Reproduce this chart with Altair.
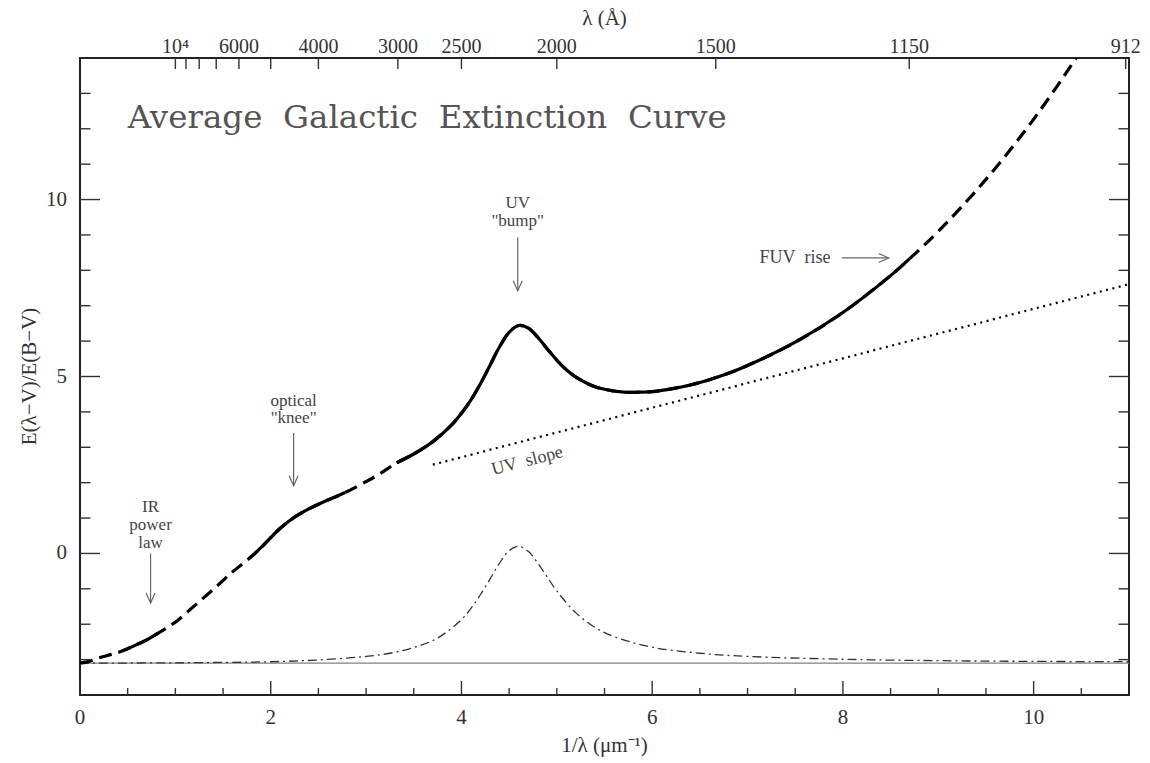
import altair as alt
import pandas as pd

FONT = "Liberation Serif"
W, H = 1049, 637

# ---- main extinction curve  E(λ-V)/E(B-V)  vs  1/λ (μm^-1) ----
curve_x = [0.00, 0.10, 0.20, 0.32, 0.44, 0.60, 0.70, 0.82, 1.00, 1.20, 1.40, 1.60, 1.78, 1.90,
           2.00, 2.10, 2.20, 2.30, 2.40, 2.50, 2.60, 2.78, 3.00, 3.15, 3.32, 3.50, 3.70, 3.90,
           4.00, 4.10, 4.20, 4.30, 4.40, 4.50, 4.60, 4.70, 4.80, 4.90, 5.00, 5.10, 5.20, 5.40,
           5.60, 5.70, 5.80, 5.90, 6.00, 6.20, 6.40, 6.60, 6.80, 7.00, 7.50, 8.00, 8.50, 8.70,
           9.00, 9.50, 10.00, 10.50, 11.00]
curve_y = [-3.10, -3.05, -2.95, -2.86, -2.76, -2.57, -2.44, -2.25, -1.94, -1.48, -1.01, -0.52, -0.13, 0.17,
           0.45, 0.71, 0.93, 1.11, 1.26, 1.39, 1.51, 1.72, 2.03, 2.26, 2.56, 2.81, 3.16, 3.64,
           3.96, 4.34, 4.80, 5.32, 5.84, 6.25, 6.44, 6.37, 6.11, 5.78, 5.46, 5.19, 4.98, 4.71,
           4.59, 4.56, 4.55, 4.56, 4.57, 4.65, 4.76, 4.91, 5.09, 5.31, 5.97, 6.81, 7.85, 8.33,
           9.10, 10.57, 12.27, 14.23, 16.47]
# ranges where the curve is drawn solid (data coverage)
solid_ranges = {"IR": (0.44, 0.82), "optical": (1.78, 2.78), "UV": (3.32, 8.70)}

# ---- Drude "bump" profile (dash-dot) ----
bump_x = [0, 1, 2, 2.5, 3, 3.25, 3.5, 3.75, 4.0, 4.1, 4.2, 4.3, 4.4, 4.5, 4.6, 4.7, 4.8, 4.9,
          5.0, 5.2, 5.4, 5.6, 6.0, 6.5, 7, 8, 9, 10, 11]
bump_y = [-3.10, -3.09, -3.06, -3.01, -2.91, -2.82, -2.66, -2.39, -1.87, -1.55, -1.16, -0.72, -0.27,
          0.08, 0.20, 0.06, -0.27, -0.67, -1.06, -1.68, -2.09, -2.35, -2.65, -2.82, -2.91, -2.99,
          -3.03, -3.05, -3.06]

# ---- linear UV slope (dotted) ----
slope_x = [3.7, 11.0]
slope_y = [2.51, 7.61]

# ---- -R_V baseline ----
base_x = [0.0, 11.0]
base_y = [-3.1, -3.1]

# ---- ticks and tick labels ----
x_major = [0, 2, 4, 6, 8, 10]
x_minor = [0.5, 1, 1.5, 2.5, 3, 3.5, 4.5, 5, 5.5, 6.5, 7, 7.5, 8.5, 9, 9.5, 10.5]
y_major = [0, 5, 10]
y_minor = [-3, -2, -1, 1, 2, 3, 4, 6, 7, 8, 9, 11, 12, 13]
lam_ticks = [10000, 9000, 8000, 7000, 6000, 5000, 4000, 3000, 2500, 2000, 1500, 1150, 912]
lam_labels = ["10⁴", "", "", "", "6000", "", "4000", "3000", "2500", "2000", "1500", "1150", "912"]
x_title = "1/λ (μm⁻¹)"
y_title = "E(λ−V)/E(B−V)"
top_title_text = "λ (Å)"
chart_title = "Average \u00a0Galactic \u00a0Extinction \u00a0Curve"

# ---- annotations ----
ann_text = ["IR", "power", "law", "optical", "\"knee\"", "UV", "\"bump\""]
ann_x = [0.74, 0.74, 0.74, 2.24, 2.24, 4.59, 4.59]
ann_y = [1.30, 0.80, 0.30, 4.32, 3.82, 9.90, 9.40]
arrow_x = [0.74, 2.24, 4.59]
arrow_top = [0.00, 3.40, 8.93]
arrow_tip = [-1.40, 1.91, 7.42]
fuv_x, fuv_y, fuv_arrow = 7.87, 8.35, (7.99, 8.48)
uvslope_x, uvslope_y = 4.69, 2.61

xs = alt.Scale(domain=[0, 11], nice=False, zero=False)
ys = alt.Scale(domain=[-4, 14], nice=False, zero=False)


def X(f):
    return alt.X(f, type="quantitative", scale=xs, axis=None)


def Y(f):
    return alt.Y(f, type="quantitative", scale=ys, axis=None)


df_curve = pd.DataFrame({"x": curve_x, "y": curve_y})


def seg_of(v):
    for name, (a, b) in solid_ranges.items():
        if a - 1e-9 <= v <= b + 1e-9:
            return name
    return None


df_curve["seg"] = [seg_of(v) for v in curve_x]
df_solid = df_curve[df_curve["seg"].notna()]

INTERP = "catmull-rom"

baseline = alt.Chart(pd.DataFrame({"x": base_x, "y": base_y})).mark_line(
    color="#808080", strokeWidth=1.3
).encode(x=X("x"), y=Y("y"))

dashed = alt.Chart(df_curve).mark_line(
    color="black", strokeWidth=3.2, strokeDash=[13, 7], interpolate=INTERP, clip=True
).encode(x=X("x"), y=Y("y"))

solid = alt.Chart(df_solid).mark_line(
    color="black", strokeWidth=3.2, interpolate=INTERP, clip=True
).encode(x=X("x"), y=Y("y"), detail="seg:N")

bump = alt.Chart(pd.DataFrame({"x": bump_x, "y": bump_y})).mark_line(
    color="#333", strokeWidth=1.3, strokeDash=[9, 4, 2, 4], interpolate=INTERP
).encode(x=X("x"), y=Y("y"))

slope = alt.Chart(pd.DataFrame({"x": slope_x, "y": slope_y})).mark_line(
    color="black", strokeWidth=2.2, strokeDash=[2, 4.5]
).encode(x=X("x"), y=Y("y"))

# ---- tick marks drawn inward ----
TC, TW = "#333", 1.4


def vticks(vals, y0, y1):
    return alt.Chart(pd.DataFrame({"x": vals})).mark_rule(color=TC, strokeWidth=TW).encode(
        x=X("x"), y=alt.value(y0), y2=alt.value(y1))


def hticks(vals, x0, x1):
    return alt.Chart(pd.DataFrame({"y": vals})).mark_rule(color=TC, strokeWidth=TW).encode(
        y=Y("y"), x=alt.value(x0), x2=alt.value(x1))


lam_x = [1e4 / l for l in lam_ticks]
ticks = [
    vticks(x_major, H, H - 14), vticks(x_minor, H, H - 7),
    vticks(lam_x, 0, 11),
    hticks(y_major, 0, 20), hticks(y_minor, 0, 10.5),
    hticks(y_major, W, W - 20), hticks(y_minor, W, W - 10.5),
]

LC = "#333"
bottom_labels = alt.Chart(pd.DataFrame({"x": x_major, "t": [str(v) for v in x_major]})).mark_text(
    font=FONT, fontSize=21, color=LC, baseline="middle", align="center"
).encode(x=X("x"), y=alt.value(H + 23), text="t:N")

left_labels = alt.Chart(pd.DataFrame({"y": y_major, "t": [str(v) for v in y_major]})).mark_text(
    font=FONT, fontSize=21, color=LC, baseline="middle", align="right"
).encode(y=Y("y"), x=alt.value(-13), text="t:N")

xtitle = alt.Chart(pd.DataFrame({"t": [x_title]})).mark_text(
    font=FONT, fontSize=21, color=LC, baseline="middle", align="center"
).encode(x=alt.value(W / 2), y=alt.value(H + 51), text="t:N")

ytitle = alt.Chart(pd.DataFrame({"t": [y_title]})).mark_text(
    font=FONT, fontSize=21, color=LC, baseline="middle", align="center", angle=270
).encode(x=alt.value(-50), y=alt.value(H / 2), text="t:N")

top_labels = alt.Chart(pd.DataFrame({"x": lam_x, "t": lam_labels})).mark_text(
    font=FONT, fontSize=20, color=LC, baseline="alphabetic", align="center"
).encode(x=X("x"), y=alt.value(-5), text="t:N")

top_title = alt.Chart(pd.DataFrame({"t": [top_title_text]})).mark_text(
    font=FONT, fontSize=21, color=LC, baseline="alphabetic", align="center"
).encode(x=alt.value(W / 2), y=alt.value(-33), text="t:N")

title = alt.Chart(pd.DataFrame({"x": [0.50], "y": [12.03], "t": [chart_title]})).mark_text(
    font="DejaVu Serif", fontSize=32.5, color="#555", baseline="alphabetic", align="left"
).encode(x=X("x"), y=Y("y"), text="t:N")

ann = alt.Chart(pd.DataFrame({"x": ann_x, "y": ann_y, "t": ann_text})).mark_text(
    font=FONT, fontSize=17, color="#444", baseline="middle", align="center"
).encode(x=X("x"), y=Y("y"), text="t:N")

fuv = alt.Chart(pd.DataFrame({"x": [fuv_x], "y": [fuv_y], "t": ["FUV\u00a0 rise"]})).mark_text(
    font=FONT, fontSize=18, color="#444", baseline="middle", align="right"
).encode(x=X("x"), y=Y("y"), text="t:N")

uvs = alt.Chart(pd.DataFrame({"x": [uvslope_x], "y": [uvslope_y], "t": ["UV\u00a0 slope"]})).mark_text(
    font=FONT, fontSize=18, color="#444", baseline="middle", align="center", angle=345.5
).encode(x=X("x"), y=Y("y"), text="t:N")

AC = "#666"
shafts = alt.Chart(pd.DataFrame({"x": arrow_x, "y": arrow_top, "y2": arrow_tip})).mark_rule(
    color=AC, strokeWidth=1.2
).encode(x=X("x"), y=Y("y"), y2="y2:Q")

heads = alt.Chart(pd.DataFrame({"x": arrow_x, "y": arrow_tip})).mark_point(
    shape="M-0.45,-1L0,0L0.45,-1", filled=False, size=400, color=AC, strokeWidth=1.2, opacity=1
).encode(x=X("x"), y=Y("y"))

fuv_shaft = alt.Chart(pd.DataFrame({"x": [fuv_arrow[0]], "x2": [fuv_arrow[1]], "y": [fuv_y]})).mark_rule(
    color=AC, strokeWidth=1.2
).encode(x=X("x"), x2="x2:Q", y=Y("y"))

fuv_head = alt.Chart(pd.DataFrame({"x": [fuv_arrow[1]], "y": [fuv_y]})).mark_point(
    shape="M-1,-0.45L0,0L-1,0.45", filled=False, size=400, color=AC, strokeWidth=1.2, opacity=1
).encode(x=X("x"), y=Y("y"))

chart = alt.layer(
    baseline, bump, slope, dashed, solid, *ticks,
    bottom_labels, left_labels, xtitle, ytitle, top_labels, top_title, title,
    ann, fuv, uvs, shafts, heads, fuv_shaft, fuv_head
).properties(
    width=W, height=H,
    autosize=alt.AutoSizeParams(type="none"),
    padding={"left": 80, "top": 58, "right": 21, "bottom": 68},
    background="white",
).configure_view(
    stroke="#222", strokeWidth=2
)

chart.save("out.html", embed_options={"renderer": "svg", "actions": False})
